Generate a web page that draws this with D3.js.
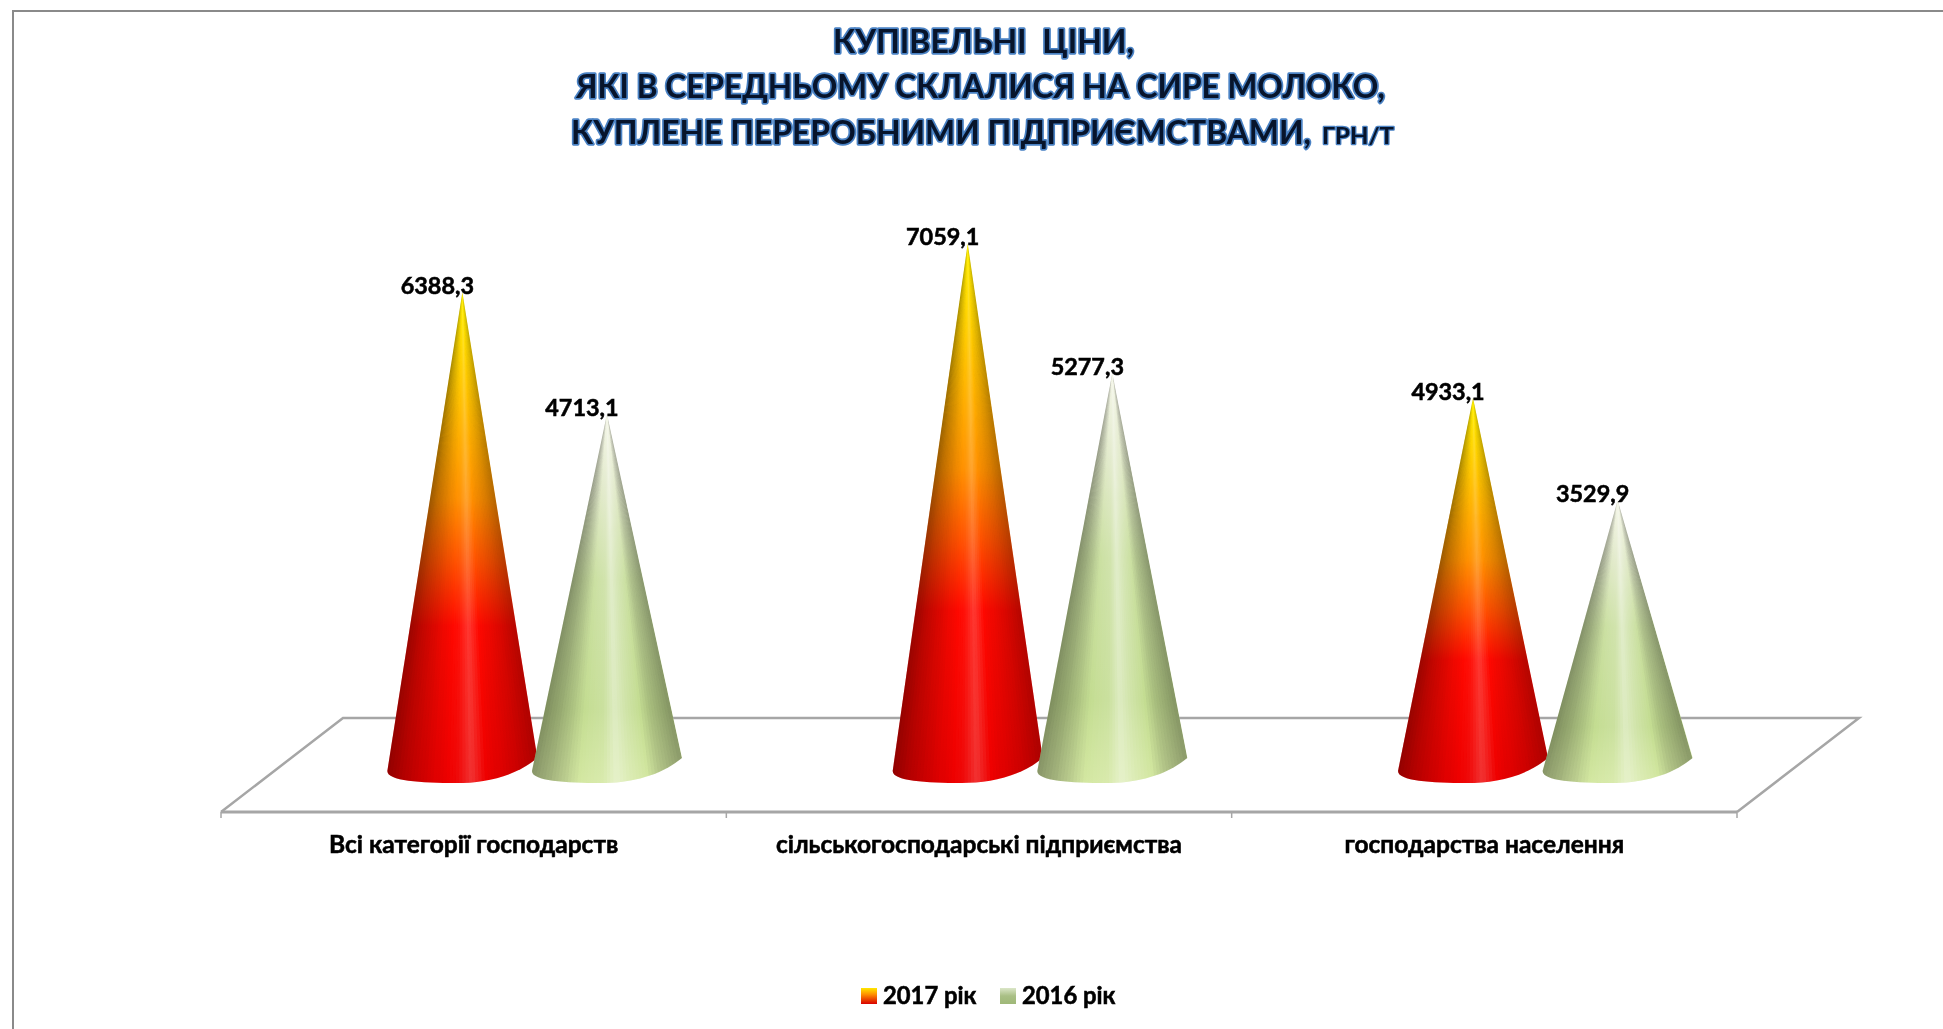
<!DOCTYPE html>
<html><head><meta charset="utf-8">
<script src="https://cdn.jsdelivr.net/npm/d3@7/dist/d3.min.js"></script>
<style>
html,body{margin:0;padding:0;background:#fff}
svg{display:block}
text{font-family:Lato,"Noto Sans","Open Sans",sans-serif;font-weight:700;fill:#000}
.lab{stroke:#000;stroke-width:.55px}
.title{fill:#07142b;stroke:#4a82c4;stroke-width:3.4px;paint-order:stroke;stroke-linejoin:round}
</style></head><body>
<script>
const categories = ["Всі категорії господарств","сільськогосподарські підприємства","господарства населення"];
const seriesNames = ["2017 рік","2016 рік"];
const values2017 = [6388.3,7059.1,4933.1];
const values2016 = [4713.1,5277.3,3529.9];
const titleLines = ["КУПІВЕЛЬНІ  ЦІНИ,","ЯКІ В СЕРЕДНЬОМУ СКЛАЛИСЯ НА СИРЕ МОЛОКО,","КУПЛЕНЕ ПЕРЕРОБНИМИ ПІДПРИЄМСТВАМИ,"];
const titleUnit = "ГРН/Т";
const comma = v => v.toFixed(1).replace(".",",");

const W=1943,H=1029;
const svg=d3.select("body").append("svg").attr("width",W).attr("height",H);
const defs=svg.append("defs");
svg.append("path").attr("d",`M13,${H}V11H${W}`).attr("fill","none").attr("stroke","#8a8a8a").attr("stroke-width",2);

// title
const titleY=[53,98,144], titleLen=[301,809,740];
titleLines.forEach((t,i)=>{
  svg.append("text").attr("class","title").attr("x",i==2?571:(i==0?833:576)).attr("y",titleY[i])
    .attr("font-size",32).attr("textLength",titleLen[i]).attr("lengthAdjust","spacingAndGlyphs").attr("xml:space","preserve").text(t);
});
svg.append("text").attr("class","title").attr("x",1322).attr("y",144).attr("font-size",23)
  .attr("textLength",72).attr("lengthAdjust","spacingAndGlyphs").style("stroke-width","2.4px").text(titleUnit);

// scales
const x0=d3.scaleBand().domain(categories).range([221,1737]);
const xs=d3.scalePoint().domain(seriesNames).range([-72.3,72.3]);
const y=d3.scaleLinear().domain([0,8000]).range([757,175]);
const depthX=122, frontY=812, backY=718, depthCx=61;

// floor
const floorCol="#a6a6a6";
const [fl,fr]=x0.range();
svg.append("path").attr("d",d3.line()([[fl,frontY],[fl+depthX,backY],[fr+depthX,backY],[fr,frontY]]))
  .attr("fill","none").attr("stroke",floorCol).attr("stroke-width",2.5);
svg.append("line").attr("x1",fl).attr("x2",fr).attr("y1",frontY).attr("y2",frontY).attr("stroke",floorCol).attr("stroke-width",3);
const tickXs=categories.map(c=>x0(c)).concat([fr]);
svg.selectAll(".tk").data(tickXs).enter().append("line").attr("x1",d=>d).attr("x2",d=>d).attr("y1",frontY).attr("y2",frontY+6)
  .attr("stroke",floorCol).attr("stroke-width",1.5);

// gradients
function vGrad(id,stops){
  const g=defs.append("linearGradient").attr("id",id).attr("x1",0).attr("y1",0).attr("x2",0).attr("y2",1);
  stops.forEach(s=>g.append("stop").attr("offset",s[0]).attr("stop-color",s[1]));
}
vGrad("g2017",[[0,"#fff000"],[.15,"#ffd000"],[.42,"#ff9000"],[.55,"#ff5000"],[.68,"#ff0800"],[1,"#ee0000"]]);
vGrad("g2016",[[0,"#f4f6e8"],[.2,"#e2eacb"],[.45,"#cbe0a2"],[.8,"#c4dd92"],[1,"#d4e8a2"]]);
vGrad("l2017",[[0,"#ffe800"],[.4,"#ff9000"],[1,"#d80000"]]);
vGrad("l2016",[[0,"#dbe6c8"],[.5,"#a9bf85"],[1,"#9fb878"]]);

// shading across the cone: -1 left edge, +1 right edge
const shadeDomain=[-1,-.75,-.35,-.05,.12,.3,.65,1];
const shades={
  "2017 рік":d3.scaleLinear().domain(shadeDomain).range([.3,.38,.47,.52,.6,.5,.44,.36]),
  "2016 рік":d3.scaleLinear().domain(shadeDomain).range([.32,.38,.5,.56,.72,.6,.44,.34])
};
const fills={"2017 рік":"g2017","2016 рік":"g2016"};
const vals={"2017 рік":values2017,"2016 рік":values2016};
const hw=75;
const N=48;
const g=svg.append("g");
const items=[];
categories.forEach((c,i)=>seriesNames.forEach(s=>items.push({c,s,i,v:vals[s][i]})));
items.forEach((d,idx)=>{
  const cx=x0(d.c)+x0.bandwidth()/2+depthCx+xs(d.s);
  const ya=y(d.v), yb=y(0);
  const path=`M${cx},${ya}L${cx+hw},${yb+1}C${cx+52},${yb+20} ${cx+22},${yb+26} ${cx-6},${yb+26}C${cx-42},${yb+26} ${cx-hw},${yb+24} ${cx-hw},${yb+14}Z`;
  const cid="clip"+idx;
  defs.append("clipPath").attr("id",cid).append("path").attr("d",path);
  const cone=g.append("g");
  cone.append("path").attr("d",path).attr("fill",`url(#${fills[d.s]})`);
  const fan=cone.append("g").attr("clip-path",`url(#${cid})`).style("mix-blend-mode","hard-light");
  for(let k=0;k<N;k++){
    const t0=-1+2*k/N,t1=-1+2*(k+1.5)/N,tm=-1+2*(k+.5)/N;
    const c=Math.round(255*shades[d.s](tm));
    const ext=(yb+40-ya)/(yb+8-ya);
    fan.append("path").attr("d",d3.line()([[cx,ya-2],[cx+hw*t0*ext,yb+40],[cx+hw*t1*ext,yb+40]]))
      .attr("fill",`rgb(${c},${c},${c})`);
  }
  svg.append("text").attr("class","lab").attr("x",cx-25).attr("y",ya+2).attr("text-anchor","middle").attr("font-size",23.4).text(comma(d.v));
});

// category labels
svg.selectAll(".cat").data(categories).enter().append("text").attr("class","lab").attr("x",d=>x0(d)+x0.bandwidth()/2).attr("y",853)
  .attr("text-anchor","middle").attr("font-size",24.5).text(d=>d);

// legend
const legX=[861,1000];
seriesNames.forEach((s,i)=>{
  svg.append("rect").attr("x",legX[i]).attr("y",988).attr("width",16).attr("height",16).attr("fill",`url(#l${s.slice(0,4)})`);
  svg.append("text").attr("class","lab").attr("x",legX[i]+22).attr("y",1004).attr("font-size",23.8).text(s);
});
</script></body></html>
